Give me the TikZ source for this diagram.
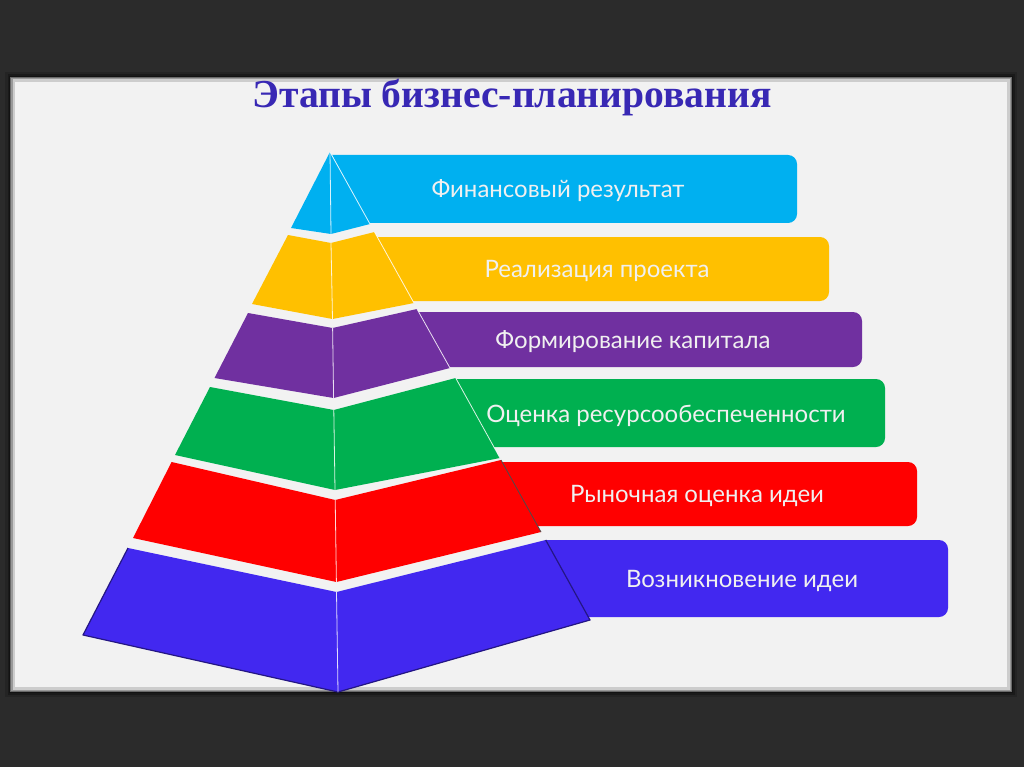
\documentclass[tikz,border=0pt]{standalone}
\usepackage{fontspec}
\setmainfont{Lato}
\newfontfamily\titlefont{Liberation Serif}
\usetikzlibrary{positioning}
\definecolor{darkback}{RGB}{43,43,43}
\definecolor{slidegrey}{RGB}{242,242,242}
\definecolor{titleblue}{RGB}{56,40,180}
\definecolor{stagecyan}{RGB}{0,176,240}
\definecolor{stageyellow}{RGB}{255,192,0}
\definecolor{stagepurple}{RGB}{112,48,160}
\definecolor{stagegreen}{RGB}{0,176,80}
\definecolor{stagered}{RGB}{255,0,0}
\definecolor{stageblue}{RGB}{66,40,240}
\tikzstyle{heading}=[
	text=titleblue,
	font=\titlefont\bfseries\fontsize{39.6}{42}\selectfont,
	inner sep=0pt
]
\tikzstyle{stage}=[
	text=white!94!black,
	font=\fontsize{24}{26}\selectfont,
	inner sep=0pt,
	anchor=base
]
\tikzstyle{frontline}=[
	white,
	line width=0.8pt,
	opacity=0.85
]
\tikzstyle{darkline}=[
	black!70,
	line width=0.8pt
]
\tikzstyle{blueedge}=[
	stageblue!55!black,
	line width=1.2pt,
	line join=round
]

\begin{document}
\begin{tikzpicture}[x=1pt,y=-1pt]
\useasboundingbox (0,0) rectangle (1024,767);
\fill[darkback] (0,0) rectangle (1024,767);
\fill[slidegrey] (10,77) rectangle (1012,692);
\draw[black, line width=10pt, opacity=0.15] (10,77) rectangle (1012,692);
\draw[black, line width=5pt, opacity=0.25] (10,77) rectangle (1012,692);
\draw[black, line width=2pt, opacity=0.3] (10,77) rectangle (1012,692);

\node[heading] (Title) at (512,98) {Этапы бизнес-планирования};

% bars behind the pyramid
\fill[stagecyan] (332,155) [rounded corners=9pt] -- (797,155) -- (797,223) [sharp corners] -- (369,223) -- cycle;
\fill[stageyellow] (376,237) [rounded corners=9pt] -- (829,237) -- (829,301) [sharp corners] -- (412,301) -- cycle;
\fill[stagepurple] (418,312) [rounded corners=9pt] -- (862,312) -- (862,367) [sharp corners] -- (448,367) -- cycle;
\fill[stagegreen] (455,379) [rounded corners=9pt] -- (885,379) -- (885,447) [sharp corners] -- (493,447) -- cycle;
\fill[stagered] (501,462) [rounded corners=9pt] -- (917,462) -- (917,526) [sharp corners] -- (537,526) -- cycle;
\fill[stageblue] (545,540) [rounded corners=9pt] -- (948,540) -- (948,617) [sharp corners] -- (587,617) -- cycle;

% pyramid layers
\fill[stagecyan] (330,152) -- (370,224) -- (331,234) -- (291,228) -- cycle;
\fill[stageyellow] (288,235) -- (331,243) -- (374.5,232) -- (414,303) -- (332.5,319) -- (252,304) -- cycle;
\fill[stagepurple] (248,313) -- (332.6,328) -- (417,309) -- (450,368) -- (333.6,398) -- (214.5,378) -- cycle;
\fill[stagegreen] (210,387) -- (333.8,410) -- (455.7,378) -- (500,458) -- (335,490) -- (175,455) -- cycle;
\fill[stagered] (171.6,462) -- (335.2,500) -- (501,460) -- (541,532) -- (336.4,582) -- (133,538) -- cycle;
\fill[stageblue] (128,548) -- (336.5,592) -- (545.7,540) -- (590,620) -- (338,692) -- (83,635) -- cycle;
\draw[blueedge] (128,548) -- (83,635) -- (338,692) -- (590,620) -- (545.7,540);

% edges of the faces
\draw[frontline] (330,152) -- (331,234);
\draw[frontline] (331,243) -- (332.5,319);
\draw[frontline] (332.6,328) -- (333.6,398);
\draw[frontline] (333.8,410) -- (335,490);
\draw[frontline] (335.2,500) -- (336.4,582);
\draw[frontline] (336.5,592) -- (338,692);
\draw[frontline] (330,152) -- (370,224);
\draw[frontline] (374.5,232) -- (414,303);
\draw[frontline] (417,309) -- (450,368);
\draw[frontline] (455.7,378) -- (500,458);
\draw[darkline] (501,460) -- (541,532);

\node[stage] (Result) at (558,198) {Финансовый результат};
\node[stage] (Realization) at (597,277) {Реализация проекта};
\node[stage] (Capital) at (633,348) {Формирование капитала};
\node[stage] (Resources) at (666,422) {Оценка ресурсообеспеченности};
\node[stage] (Market) at (697,502) {Рыночная оценка идеи};
\node[stage] (Idea) at (742,587) {Возникновение идеи};
\end{tikzpicture}
\end{document}
